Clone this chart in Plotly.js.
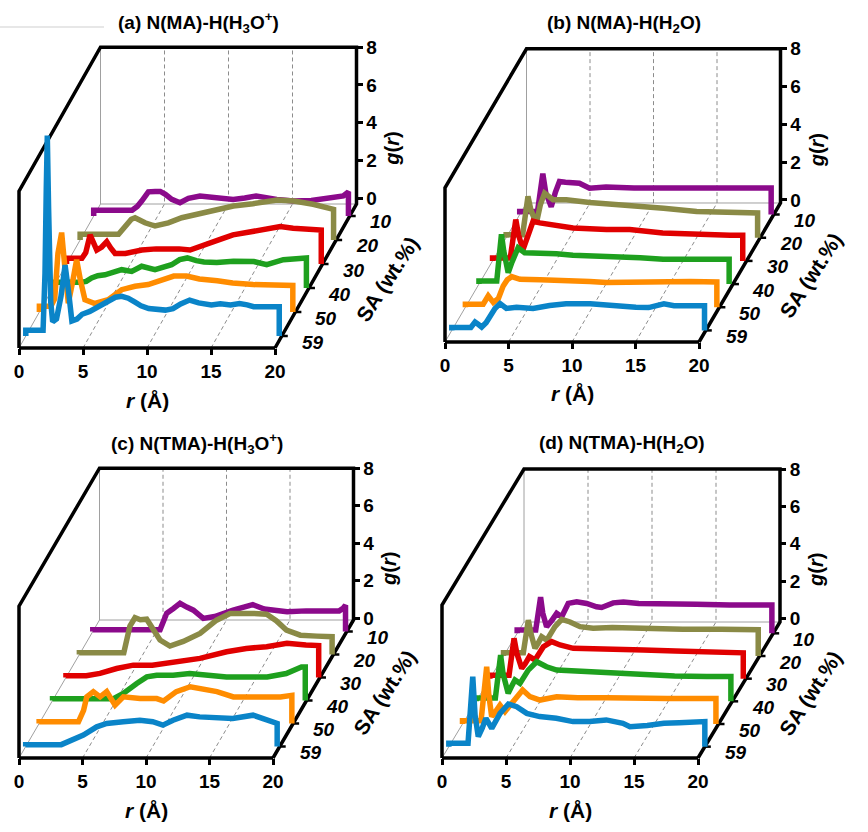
<!DOCTYPE html>
<html>
<head>
<meta charset="utf-8">
<script src="https://cdn.plot.ly/plotly-3.0.1.min.js"></script>
<style>
html, body { margin: 0; padding: 0; background: #fff; }
#chart { width: 868px; height: 832px; }
</style>
</head>
<body>
<div id="chart"></div>
<script>
// SA wt.% of each series, front (59) to back (10)
var saLabels = ['59', '50', '40', '30', '20', '10'];
var rTicks = [0, 5, 10, 15, 20];
var gTicks = [0, 2, 4, 6, 8];
var titles = [
  '(a) N(MA)-H(H<sub>3</sub>O<sup>+</sup>)',
  '(b) N(MA)-H(H<sub>2</sub>O)',
  '(c) N(TMA)-H(H<sub>3</sub>O<sup>+</sup>)',
  '(d) N(TMA)-H(H<sub>2</sub>O)'
];

// (a) N(MA)-H(H3O+)
var aR59 = [0, 1.35, 1.5, 1.6, 1.68, 1.78, 1.95, 2.1, 2.4, 2.75, 3.07, 3.35, 3.6, 4.0, 4.4, 5.0, 5.4, 6.0, 6.5, 7.0, 7.5, 8.0, 8.5, 9.0, 9.6, 10.2, 10.9, 11.5, 12.1, 12.8, 13.5, 14.5, 15.2, 16.0, 16.7, 17.3, 17.8, 18.8, 19.8];
var aG59 = [0, 0, 3.0, 7.5, 10.3, 6.5, 1.5, 0.45, 0.6, 1.8, 3.45, 2.0, 0.5, 0.6, 0.85, 1.0, 1.16, 1.4, 1.6, 1.75, 1.8, 1.7, 1.5, 1.3, 1.15, 1.1, 1.07, 1.15, 1.4, 1.6, 1.45, 1.34, 1.4, 1.34, 1.42, 1.35, 1.25, 1.25, 1.25];
var aR50 = [0, 0.9, 1.2, 1.45, 1.74, 2.0, 2.26, 2.6, 2.91, 3.2, 3.56, 4.34, 5.38, 6.43, 7.47, 8.5, 9.8, 10.5, 11.5, 12.5, 13.9, 15.1, 16.7, 18.5, 19.8];
var aG50 = [0, 0, 0.4, 2.8, 3.9, 2.0, 0.17, 1.3, 2.47, 1.4, 0.35, 0.15, 0.35, 0.88, 1.06, 1.15, 1.41, 1.6, 1.6, 1.45, 1.35, 1.23, 1.15, 1.12, 1.1];
var aR40 = [0, 2.2, 2.6, 3.02, 3.5, 4.06, 4.7, 5.37, 6.15, 6.93, 7.97, 8.6, 9.27, 9.9, 10.5, 11.2, 11.8, 12.8, 14.1, 15.7, 16.7, 18.0, 19.3, 19.8];
var aG40 = [0, 0, 0.05, 0.23, 0.35, 0.4, 0.5, 0.67, 0.58, 0.85, 0.67, 0.8, 0.93, 1.2, 1.29, 1.15, 1.08, 1.05, 1.11, 1.1, 0.93, 1.2, 1.29, 1.29];
var aR30 = [0, 1.2, 1.5, 1.84, 2.1, 2.36, 2.75, 3.14, 3.45, 3.79, 4.6, 5.88, 7.0, 7.83, 8.8, 9.65, 10.95, 12.0, 13.0, 14.6, 15.7, 16.7, 17.7, 19.0, 19.9];
var aG30 = [0, 0, 0.3, 1.24, 0.9, 0.44, 0.6, 0.88, 0.55, 0.26, 0.26, 0.44, 0.5, 0.53, 0.5, 0.44, 0.79, 1.0, 1.24, 1.41, 1.55, 1.68, 1.59, 1.5, 1.5];
var aR20 = [0, 3.0, 3.5, 4.0, 4.29, 4.7, 5.07, 5.85, 6.89, 7.94, 9.23, 10.54, 11.97, 13.5, 14.5, 15.4, 16.7, 18.2, 19.8];
var aG20 = [0, 0, 0.35, 0.8, 0.88, 0.7, 0.61, 0.44, 0.61, 0.88, 1.06, 1.23, 1.5, 1.62, 1.7, 1.81, 1.76, 1.59, 1.32];
var aR10 = [0, 3.0, 3.4, 3.75, 4.27, 4.8, 5.2, 5.6, 6.1, 6.74, 7.4, 8.3, 9.6, 10.9, 11.8, 12.7, 14.3, 15.6, 17.0, 18.2, 19.5, 19.9];
var aG10 = [0, 0, 0.2, 0.49, 0.98, 1.0, 1.0, 0.85, 0.58, 0.4, 0.63, 0.76, 0.67, 0.58, 0.65, 0.76, 0.58, 0.49, 0.52, 0.67, 0.76, 0.98];

// (b) N(MA)-H(H2O)
var bR59 = [0, 1.5, 1.83, 2.1, 2.35, 2.7, 3.0, 3.4, 3.8, 4.3, 5.1, 6.4, 7.7, 9.0, 10.9, 12.2, 13.5, 14.5, 15.5, 16.7, 17.5, 18.5, 19.3, 19.9];
var bG59 = [0, 0, 0.28, 0.15, 0.02, 0.25, 0.63, 1.0, 1.26, 1.0, 1.07, 1.0, 1.16, 1.25, 1.25, 1.16, 1.07, 1.07, 1.05, 1.25, 1.15, 1.12, 1.15, 1.15];
var bR50 = [0, 1.4, 1.8, 2.2, 2.6, 2.98, 3.3, 3.64, 4.3, 5.9, 7.97, 9.8, 11.1, 12.5, 14.0, 15.6, 17.7, 19.8];
var bG50 = [0, 0, 0.44, 0.1, 0.3, 0.97, 1.3, 1.46, 1.32, 1.29, 1.27, 1.2, 1.15, 1.17, 1.2, 1.2, 1.2, 1.18];
var bR40 = [0, 1.4, 1.6, 1.77, 1.95, 2.15, 2.3, 2.6, 3.08, 3.6, 4.79, 6.1, 7.4, 10.0, 12.7, 14.5, 17.1, 19.7];
var bG40 = [0, 0, 1.2, 2.47, 1.6, 0.7, 0.44, 1.0, 1.76, 1.5, 1.5, 1.45, 1.37, 1.32, 1.23, 1.15, 1.15, 1.15];
var bR30 = [0, 1.4, 1.6, 1.83, 2.05, 2.4, 2.8, 3.19, 3.72, 4.5, 5.29, 6.34, 8.97, 10.8, 13.4, 16.1, 18.7, 19.7];
var bG30 = [0, 0, 1.0, 2.03, 1.2, 0.44, 1.2, 1.94, 1.85, 1.75, 1.67, 1.58, 1.5, 1.5, 1.32, 1.23, 1.2, 1.2];
var bR20 = [0, 1.3, 1.5, 1.72, 1.95, 2.38, 2.7, 3.03, 3.69, 4.74, 6.57, 8.0, 10.5, 12.4, 15.0, 17.6, 19.8];
var bG20 = [0, 0, 1.0, 2.03, 1.3, 0.6, 1.6, 2.2, 1.85, 1.85, 1.71, 1.65, 1.5, 1.4, 1.23, 1.2, 1.15];
var bR10 = [0, 1.4, 1.6, 1.82, 2.05, 2.48, 2.8, 3.13, 3.6, 4.7, 5.5, 6.8, 9.0, 12.0, 16.5, 19.8];
var bG10 = [0, 0, 0.8, 2.0, 1.0, 0.26, 1.0, 1.59, 1.55, 1.5, 1.24, 1.3, 1.25, 1.25, 1.25, 1.25];

// (c) N(TMA)-H(H3O+)
var cR59 = [0, 2.8, 3.62, 4.54, 5.59, 6.38, 7.68, 8.99, 10.0, 10.8, 11.6, 12.7, 13.7, 15.0, 16.3, 17.9, 19.0, 19.8];
var cG59 = [0, 0, 0.24, 0.51, 0.95, 1.13, 1.22, 1.3, 1.22, 1.04, 1.3, 1.57, 1.48, 1.45, 1.4, 1.57, 1.3, 1.13];
var cR50 = [0, 3.1, 3.5, 3.75, 4.27, 4.8, 5.32, 5.98, 6.63, 7.95, 9.26, 9.8, 10.8, 11.9, 13.2, 14.0, 15.3, 17.0, 19.0, 19.9];
var cG50 = [0, 0, 0.6, 1.32, 1.6, 1.32, 1.6, 0.88, 1.32, 1.23, 1.23, 1.1, 1.6, 1.86, 1.68, 1.6, 1.32, 1.32, 1.32, 1.4];
var cR40 = [0, 4.8, 5.57, 6.63, 7.42, 8.2, 9.5, 10.8, 12.2, 13.7, 15.5, 16.9, 18.4, 19.6, 19.9];
var cG40 = [0, 0, 0.28, 0.81, 1.16, 1.25, 1.25, 1.34, 1.25, 1.16, 1.16, 1.16, 1.34, 1.69, 1.69];
var cR30 = [0, 1.6, 2.68, 3.99, 5.3, 6.8, 8.45, 10.55, 12.65, 14.2, 15.8, 17.4, 18.9, 19.9];
var cG30 = [0, 0, 0.12, 0.38, 0.56, 0.56, 0.74, 0.92, 1.27, 1.45, 1.54, 1.72, 1.63, 1.6];
var cR20 = [0, 3.5, 3.98, 4.38, 4.8, 5.3, 5.82, 6.35, 7.13, 8.18, 9.5, 10.8, 11.86, 12.8, 13.7, 14.75, 15.5, 16.3, 17.4, 18.7, 19.9];
var cG20 = [0, 0, 1.42, 1.86, 1.75, 1.78, 1.2, 0.67, 0.35, 0.6, 1.02, 1.73, 2.09, 2.12, 2.09, 2.05, 1.7, 1.2, 0.93, 0.88, 0.85];
var cR10 = [0, 5.3, 5.82, 6.35, 6.87, 7.4, 7.92, 8.7, 9.6, 11.05, 12.6, 13.5, 15.3, 16.8, 18.4, 19.4, 19.7, 19.9];
var cG10 = [0, 0, 0.87, 1.13, 1.4, 1.2, 1.04, 0.6, 0.7, 1.04, 1.33, 1.1, 0.96, 1.0, 0.96, 1.0, 1.13, 1.3];

// (d) N(TMA)-H(H2O)
var dR59 = [0, 1.5, 1.7, 1.87, 2.05, 2.3, 2.6, 2.9, 3.35, 4.0, 4.65, 5.3, 6.09, 7.1, 8.4, 9.7, 11.0, 12.3, 13.6, 14.15, 15.5, 16.8, 18.0, 19.4, 20.0];
var dG59 = [0, 0, 1.6, 3.56, 1.5, 0.36, 0.8, 1.34, 0.8, 1.6, 2.1, 1.96, 1.6, 1.43, 1.34, 1.16, 1.16, 1.25, 1.07, 0.89, 0.95, 1.07, 1.1, 1.16, 1.16];
var dR50 = [0, 1.45, 1.7, 1.89, 2.05, 2.28, 2.6, 2.93, 3.32, 4.1, 4.7, 5.27, 6.05, 7.36, 9.0, 11.3, 13.5, 16.0, 19.8];
var dG50 = [0, 0, 1.5, 2.88, 1.4, 0.21, 0.5, 0.83, 0.48, 1.19, 1.64, 1.28, 1.1, 1.28, 1.22, 1.22, 1.19, 1.19, 1.19];
var dR40 = [0, 1.5, 1.75, 1.91, 2.1, 2.5, 2.75, 3.03, 3.42, 4.07, 4.73, 5.5, 6.29, 7.5, 8.9, 10.5, 12.8, 15.5, 18.0, 19.9];
var dG40 = [0, 0, 1.4, 2.29, 1.3, 0.25, 0.6, 0.96, 0.78, 1.49, 1.94, 1.67, 1.49, 1.45, 1.4, 1.35, 1.22, 1.18, 1.15, 1.15];
var dR30 = [0, 1.5, 1.72, 1.89, 2.1, 2.49, 2.75, 3.09, 3.53, 4.18, 4.83, 5.48, 6.52, 8.0, 10.0, 12.0, 14.5, 17.0, 19.8];
var dG30 = [0, 0, 1.2, 1.98, 1.2, 0.37, 0.6, 1.0, 0.82, 1.53, 1.8, 1.62, 1.44, 1.4, 1.38, 1.35, 1.3, 1.25, 1.2];
var dR20 = [0, 1.55, 1.78, 1.94, 2.15, 2.46, 2.7, 2.98, 3.38, 4.02, 4.55, 5.2, 5.98, 7.0, 8.5, 11.0, 14.0, 17.0, 19.9];
var dG20 = [0, 0, 1.0, 1.74, 1.0, 0.23, 0.5, 0.85, 0.67, 1.39, 1.78, 1.64, 1.39, 1.3, 1.35, 1.28, 1.25, 1.25, 1.22];
var dR10 = [0, 1.45, 1.65, 1.83, 2.0, 2.3, 2.7, 3.09, 3.48, 3.99, 4.65, 5.43, 6.2, 6.6, 7.5, 8.3, 9.5, 11.4, 14.0, 16.6, 19.9];
var dG10 = [0, 0, 0.9, 1.75, 0.9, 0.17, 0.5, 0.89, 0.71, 1.42, 1.51, 1.42, 1.24, 1.2, 1.45, 1.5, 1.42, 1.42, 1.38, 1.33, 1.33];

var colors = ['#0a84c8', '#ff8c00', '#1ea01e', '#e00000', '#8a8a46', '#8b0a8b'];
var FONT = 'Liberation Sans, Arial, sans-serif';
var W = 868, H = 832;

// panel geometry in pixels: front-left-bottom corner, front width, g scale, depth offset
var panels = [
  {x0: 19,  y0: 348, w: 256, pg: 18.9,  gmin: -0.3,  dx: 81.5, dy: 144,
   series: [[aR59, aG59], [aR50, aG50], [aR40, aG40], [aR30, aG30], [aR20, aG20], [aR10, aG10]]},
  {x0: 445, y0: 342, w: 254, pg: 18.9,  gmin: -0.16, dx: 81.5, dy: 139,
   series: [[bR59, bG59], [bR50, bG50], [bR40, bG40], [bR30, bG30], [bR20, bG20], [bR10, bG10]]},
  {x0: 19,  y0: 758, w: 254, pg: 18.75, gmin: -0.1,  dx: 80.5, dy: 138,
   series: [[cR59, cG59], [cR50, cG50], [cR40, cG40], [cR30, cG30], [cR20, cG20], [cR10, cG10]]},
  {x0: 442, y0: 758, w: 256, pg: 18.7,  gmin: -0.18, dx: 82,   dy: 136,
   series: [[dR59, dG59], [dR50, dG50], [dR40, dG40], [dR30, dG30], [dR20, dG20], [dR10, dG10]]}
];

var traces = [], annotations = [], layout = {};

panels.forEach(function (p, pi) {
  var s = pi === 0 ? '' : String(pi + 1);
  var xa = 'x' + s, ya = 'y' + s;
  var pxR = p.w / 20;
  var dxR = p.dx / pxR, dyG = p.dy / p.pg;
  var gTop = 8;
  // oblique projection: depth f in [0,1] shifts right and up
  function P(r, g, f) { return [r + f * dxR, g + f * dyG]; }
  function path(pts) {
    var xs = [], ys = [];
    pts.forEach(function (q) {
      if (q === null) { xs.push(null); ys.push(null); return; }
      var v = P(q[0], q[1], q[2]);
      xs.push(v[0]); ys.push(v[1]);
    });
    return {x: xs, y: ys};
  }
  function frameTrace(pts, color, width, dash) {
    var d = path(pts);
    return {x: d.x, y: d.y, xaxis: xa, yaxis: ya, type: 'scatter', mode: 'lines',
      line: {color: color, width: width, dash: dash || 'solid'}, hoverinfo: 'skip', showlegend: false};
  }
  var gm = p.gmin;

  // thin grey walls
  traces.push(frameTrace([[0, gm, 1], [0, gTop, 1], null, [0, gm, 1], [20, gm, 1], null,
    [0, gm, 0], [0, gm, 1]], '#a0a0a0', 1));
  var dash = [];
  [5, 10, 15].forEach(function (rr) { dash.push([rr, gm, 0], [rr, gm, 1], [rr, gTop, 1], null); });
  traces.push(frameTrace(dash, '#8c8c8c', 1, '4px,3px'));

  // black outline
  traces.push(frameTrace([[0, gm, 0], [20, gm, 0], null,
    [0, gm, 0], [0, gTop, 0], [0, gTop, 1], [20, gTop, 1], [20, gm, 1], [20, gm, 0]], '#000', 3.5));

  // depth ticks
  var ticks = [];
  saLabels.forEach(function (lab, i) {
    var f = (i + 0.5) / 6;
    ticks.push([20, gm, f], [20 + 6 / pxR, gm, f], null);
  });
  traces.push(frameTrace(ticks, '#000', 2.5));

  // g(r) curves, back to front
  for (var i = p.series.length - 1; i >= 0; i--) {
    var f = (i + 0.5) / 6;
    var rr = p.series[i][0], gg = p.series[i][1];
    var pts = [[rr[0], gm, f]];
    for (var k = 0; k < rr.length; k++) pts.push([rr[k], gg[k], f]);
    pts.push([rr[rr.length - 1], gm, f]);
    var d = path(pts);
    traces.push({x: d.x, y: d.y, xaxis: xa, yaxis: ya, type: 'scatter', mode: 'lines',
      name: saLabels[i], line: {color: colors[i], width: 5.5}, hoverinfo: 'skip', showlegend: false});
  }

  // axes
  var pad = 8;
  var L = p.x0 - pad, R = p.x0 + p.w + p.dx + pad;
  var T = p.y0 - p.dy - (gTop - gm) * p.pg - pad, B = p.y0 + pad;
  layout['xaxis' + s] = {
    domain: [L / W, R / W], range: [(L - p.x0) / pxR, (R - p.x0) / pxR],
    anchor: 'free', position: 1 - p.y0 / H,
    tickvals: rTicks, ticks: 'outside', ticklen: 6, tickwidth: 3, tickcolor: '#000',
    tickfont: {family: FONT, size: 19, color: '#000', weight: 'bold'},
    showline: false, showgrid: false, zeroline: false, fixedrange: true
  };
  layout['yaxis' + s] = {
    domain: [1 - B / H, 1 - T / H], range: [gm - (B - p.y0) / p.pg, gm + (p.y0 - T) / p.pg],
    anchor: 'free', position: (p.x0 + p.w + p.dx) / W, side: 'right',
    tickvals: gTicks.map(function (v) { return v + dyG; }), ticktext: gTicks.map(String),
    ticks: 'outside', ticklen: 5, tickwidth: 3, tickcolor: '#000',
    tickfont: {family: FONT, size: 19, color: '#000', weight: 'bold'},
    showline: false, showgrid: false, zeroline: false, fixedrange: true
  };

  // labels
  var topY = p.y0 - p.dy - (gTop - gm) * p.pg;
  annotations.push({xref: 'paper', yref: 'paper',
    x: (p.x0 + (p.w + p.dx) / 2 + 11) / W, y: 1 - (topY - 25) / H,
    text: '<b>' + titles[pi] + '</b>', showarrow: false, xanchor: 'center', yanchor: 'middle',
    font: {family: FONT, size: 19, color: '#000'}});
  annotations.push({xref: xa, yref: ya, x: 10, y: gm, yshift: -52,
    text: '<b><i>r</i> (Å)</b>', showarrow: false, xanchor: 'center', yanchor: 'middle',
    font: {family: FONT, size: 21, color: '#000'}});
  var ga = P(20, 2.6, 1);
  annotations.push({xref: xa, yref: ya, x: ga[0], y: ga[1], xshift: 36,
    text: '<b><i>g</i>(<i>r</i>)</b>', textangle: -90, showarrow: false,
    font: {family: FONT, size: 20, color: '#000'}});
  saLabels.forEach(function (lab, i) {
    var q = P(20, gm, (i + 0.5) / 6);
    annotations.push({xref: xa, yref: ya, x: q[0], y: q[1], xshift: 31, yshift: -6,
      text: '<b><i>' + lab + '</i></b>', showarrow: false,
      font: {family: FONT, size: 19, color: '#000'}});
  });
  var sa = P(20, gm, 0.5);
  annotations.push({xref: xa, yref: ya, x: sa[0], y: sa[1], xshift: 71, yshift: -3,
    text: '<b>SA (wt.%)</b>', textangle: -57, showarrow: false,
    font: {family: FONT, size: 21, color: '#000'}});
});

layout.width = W;
layout.height = H;
layout.margin = {l: 0, r: 0, t: 0, b: 0};
layout.paper_bgcolor = '#fff';
layout.plot_bgcolor = 'rgba(0,0,0,0)';
layout.showlegend = false;
layout.font = {family: FONT, color: '#000'};
layout.annotations = annotations;
layout.shapes = [{type: 'line', xref: 'paper', yref: 'paper', x0: 0, x1: 104 / W,
  y0: 1 - 27 / H, y1: 1 - 27 / H, line: {color: '#cfcfcf', width: 1}}];

Plotly.newPlot('chart', traces, layout, {displayModeBar: false, staticPlot: true});
</script>
</body>
</html>
